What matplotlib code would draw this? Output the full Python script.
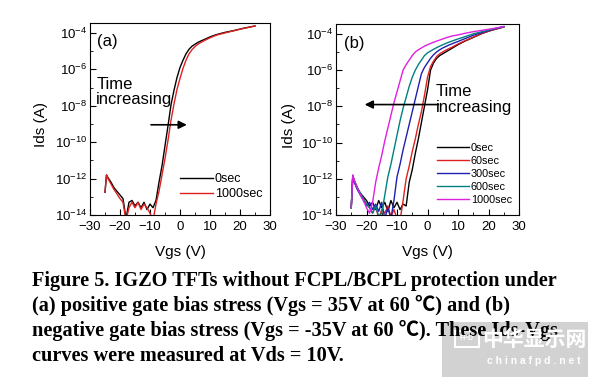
import numpy as np
import matplotlib
matplotlib.use('Agg')
import matplotlib.pyplot as plt
from matplotlib.ticker import LogLocator, MultipleLocator, NullFormatter
from matplotlib.patches import Rectangle

plt.rcParams['font.family'] = ['Liberation Sans', 'DejaVu Sans']
plt.rcParams['mathtext.fontset'] = 'custom'
plt.rcParams['mathtext.rm'] = 'Liberation Sans'
plt.rcParams['mathtext.default'] = 'regular'

# Vgs grid (V), shared by the curves of one panel
vgs = [-25, -24.5, -24, -23, -22, -21, -20, -19, -18, -17, -16, -15, -14, -13, -12,
       -11, -10, -9, -8, -7, -6, -5, -4, -3, -2, -1, 0, 1, 2, 3, 4, 5, 6, 7, 8,
       10, 12, 15, 18, 21, 25]

# panel (a): log10(Ids) positive bias stress
a_0sec = [-12.75, -11.8, -11.95, -12.2, -12.5, -12.7, -12.9, -13.1, -14.2, -13.3, -13.2,
          -13.5, -13.3, -13.6, -13.3, -13.7, -13.4, -13.6, -13.2, -12.2, -11.3, -10.2,
          -9.1, -7.95, -7.15, -6.45, -5.9, -5.5, -5.15, -4.9, -4.73, -4.62, -4.52, -4.44,
          -4.37, -4.22, -4.1, -3.97, -3.87, -3.75, -3.62]
a_1000sec = [-12.75, -11.8, -12.0, -12.3, -12.6, -12.85, -13.1, -13.3, -14.3, -13.6, -13.3,
             -13.6, -13.3, -13.7, -13.4, -13.6, -13.9, -14.3, -13.4, -12.7, -11.8, -10.9,
             -9.9, -8.8, -7.9, -7.1, -6.5, -5.95, -5.5, -5.15, -4.92, -4.75, -4.62, -4.52,
             -4.43, -4.27, -4.13, -4.0, -3.88, -3.76, -3.62]

# panel (b): log10(Ids) negative bias stress
b_0sec = [-13.6, -11.85, -12.1, -12.5, -12.8, -13.0, -13.2, -13.5, -13.3, -13.7, -13.2,
          -13.6, -13.3, -13.8, -13.2, -13.6, -13.3, -13.7, -13.4, -13.5, -12.2, -11.5,
          -10.6, -9.8, -8.9, -8.0, -7.1, -6.0, -5.6, -5.35, -5.2, -5.1, -5.0, -4.9,
          -4.8, -4.6, -4.42, -4.2, -3.97, -3.8, -3.62]
b_60sec = [-13.6, -11.85, -12.15, -12.55, -12.85, -13.1, -13.4, -13.6, -13.9, -13.5, -14.2,
           -13.7, -13.9, -13.5, -14.1, -13.7, -14.2, -14.3, -13.2, -12.0, -11.3, -10.5,
           -9.8, -9.0, -8.3, -7.4, -6.4, -5.8, -5.5, -5.25, -5.1, -5.0, -4.9, -4.82,
           -4.74, -4.56, -4.4, -4.18, -3.96, -3.8, -3.62]
b_300sec = [-13.6, -11.85, -12.2, -12.6, -12.9, -13.2, -13.5, -13.3, -13.7, -13.4, -13.8,
            -13.3, -14.2, -13.6, -14.2, -13.2, -11.9, -11.2, -10.4, -9.7, -9.0, -8.3,
            -7.6, -6.9, -6.2, -5.85, -5.6, -5.35, -5.15, -5.0, -4.88, -4.78, -4.7, -4.62,
            -4.55, -4.42, -4.28, -4.08, -3.92, -3.77, -3.6]
b_600sec = [-13.6, -11.8, -12.1, -12.5, -12.8, -13.1, -13.4, -13.6, -13.9, -13.5, -14.1,
            -13.9, -12.9, -11.9, -11.2, -10.4, -9.6, -8.8, -8.1, -7.5, -6.9, -6.4,
            -6.0, -5.7, -5.45, -5.2, -5.05, -4.95, -4.85, -4.76, -4.68, -4.6, -4.53, -4.46,
            -4.4, -4.28, -4.17, -4.0, -3.87, -3.75, -3.6]
b_1000sec = [-13.6, -11.8, -12.1, -12.5, -12.9, -13.2, -13.6, -13.9, -13.3, -12.2, -11.4,
             -10.7, -9.9, -9.2, -8.5, -7.8, -7.2, -6.6, -6.0, -5.7, -5.45, -5.2,
             -5.0, -4.88, -4.78, -4.68, -4.6, -4.53, -4.46, -4.4, -4.34, -4.28, -4.22, -4.17,
             -4.12, -4.06, -3.98, -3.88, -3.8, -3.72, -3.6]

labels_a = ['0sec', '1000sec']
labels_b = ['0sec', '60sec', '300sec', '600sec', '1000sec']
colors_a = ['black', '#e02020']
colors_b = ['black', '#e02020', '#2020b0', '#008080', '#e020e0']

caption = ['Figure 5. IGZO TFTs without FCPL/BCPL protection under',
           '(a) positive gate bias stress (Vgs = 35V at 60 \u2103) and (b)',
           'negative gate bias stress (Vgs = -35V at 60 \u2103). These Ids-Vgs',
           'curves were measured at Vds = 10V.']

W, H = 593, 382
fig = plt.figure(figsize=(W/100, H/100), dpi=100)


def px_axes(l, t, r, b):
    return fig.add_axes([l/W, 1-b/H, (r-l)/W, (b-t)/H])


def style(ax, ylab_x):
    ax.set_xlim(-30, 30)
    ax.set_ylim(1e-14, 3.5e-4)
    ax.xaxis.set_major_locator(MultipleLocator(10))
    ax.xaxis.set_minor_locator(MultipleLocator(5))
    ax.yaxis.set_major_locator(LogLocator(base=100))
    ax.yaxis.set_minor_locator(LogLocator(base=10, subs=[1.0], numticks=20))
    ax.yaxis.set_minor_formatter(NullFormatter())
    ax.tick_params(which='both', direction='in', top=False, right=False, labelsize=9.5)
    ax.tick_params(axis='x', pad=4.5)
    ax.tick_params(axis='y', pad=2)
    ax.tick_params(which='major', length=4)
    ax.tick_params(which='minor', length=2.5)
    ax.set_xlabel('Vgs (V)', fontsize=11)
    ax.set_ylabel('Ids (A)', fontsize=11)
    ax.xaxis.set_label_coords(0.5, -0.155)
    ax.yaxis.set_label_coords(ylab_x, 0.47)


ax1 = px_axes(90, 23, 270, 215)
for lg, lab, c in zip([a_0sec, a_1000sec], labels_a, colors_a):
    ax1.semilogy(vgs, 10**np.array(lg), color=c, lw=1.0, label=lab)
style(ax1, -0.235)
ax1.text(0.04, 0.905, '(a)', transform=ax1.transAxes, fontsize=12, va='center')
ax1.text(0.035, 0.72, 'Time\nincreasing', transform=ax1.transAxes, fontsize=12,
         va='top', linespacing=1.05)
ax1.annotate('', xy=(3.2, 9e-10), xytext=(-10.6, 9e-10),
             arrowprops=dict(arrowstyle='-|>', color='black', lw=1.2, mutation_scale=12))
ax1.legend(loc='lower right', bbox_to_anchor=(0.985, 0.05), frameon=False, fontsize=9,
           handlelength=2.6, handletextpad=0.15, labelspacing=0.25, borderaxespad=0)

ax2 = px_axes(336, 24, 519, 215)
for lg, lab, c in zip([b_0sec, b_60sec, b_300sec, b_600sec, b_1000sec], labels_b, colors_b):
    ax2.semilogy(vgs, 10**np.array(lg), color=c, lw=1.0, label=lab)
style(ax2, -0.22)
ax2.text(0.045, 0.9, '(b)', transform=ax2.transAxes, fontsize=12, va='center')
ax2.text(0.545, 0.685, 'Time\nincreasing', transform=ax2.transAxes, fontsize=12,
         va='top', linespacing=1.05)
ax2.annotate('', xy=(-21.5, 1.25e-8), xytext=(4.5, 1.25e-8),
             arrowprops=dict(arrowstyle='-|>', color='black', lw=1.2, mutation_scale=12))
ax2.legend(loc='lower right', bbox_to_anchor=(0.985, 0.03), frameon=False, fontsize=7.8,
           handlelength=3.0, handletextpad=0.15, labelspacing=0.27, borderaxespad=0)

for i, line in enumerate(caption):
    fig.text(32/W, 1-(286+25*i)/H, line, fontsize=14.6, fontweight='bold',
             family=['Liberation Serif', 'Noto Sans CJK SC'], va='baseline')

# watermark
fig.patches.append(Rectangle((442/W, 1-377/H), 146/W, 55/H, transform=fig.transFigure,
                             facecolor='#c4c4c4', edgecolor='none', alpha=0.75))
fig.patches.append(Rectangle((455/W, 1-347/H), 24/W, 16/H, transform=fig.transFigure,
                             facecolor='none', edgecolor='white', lw=1.5))
fig.text(467/W, 1-339/H, 'FPD', color='white', fontsize=5, ha='center', va='center',
         fontweight='bold')
fig.text(534/W, 1-339/H, '中华显示网', color='white', fontsize=15, ha='center', va='center',
         family=['Noto Sans CJK SC'], fontweight='bold')
fig.text(534/W, 1-361/H, 'c h i n a f p d . n e t', color='white', fontsize=7.5,
         ha='center', va='center', fontweight='bold')

fig.savefig('out.png', dpi=100)
